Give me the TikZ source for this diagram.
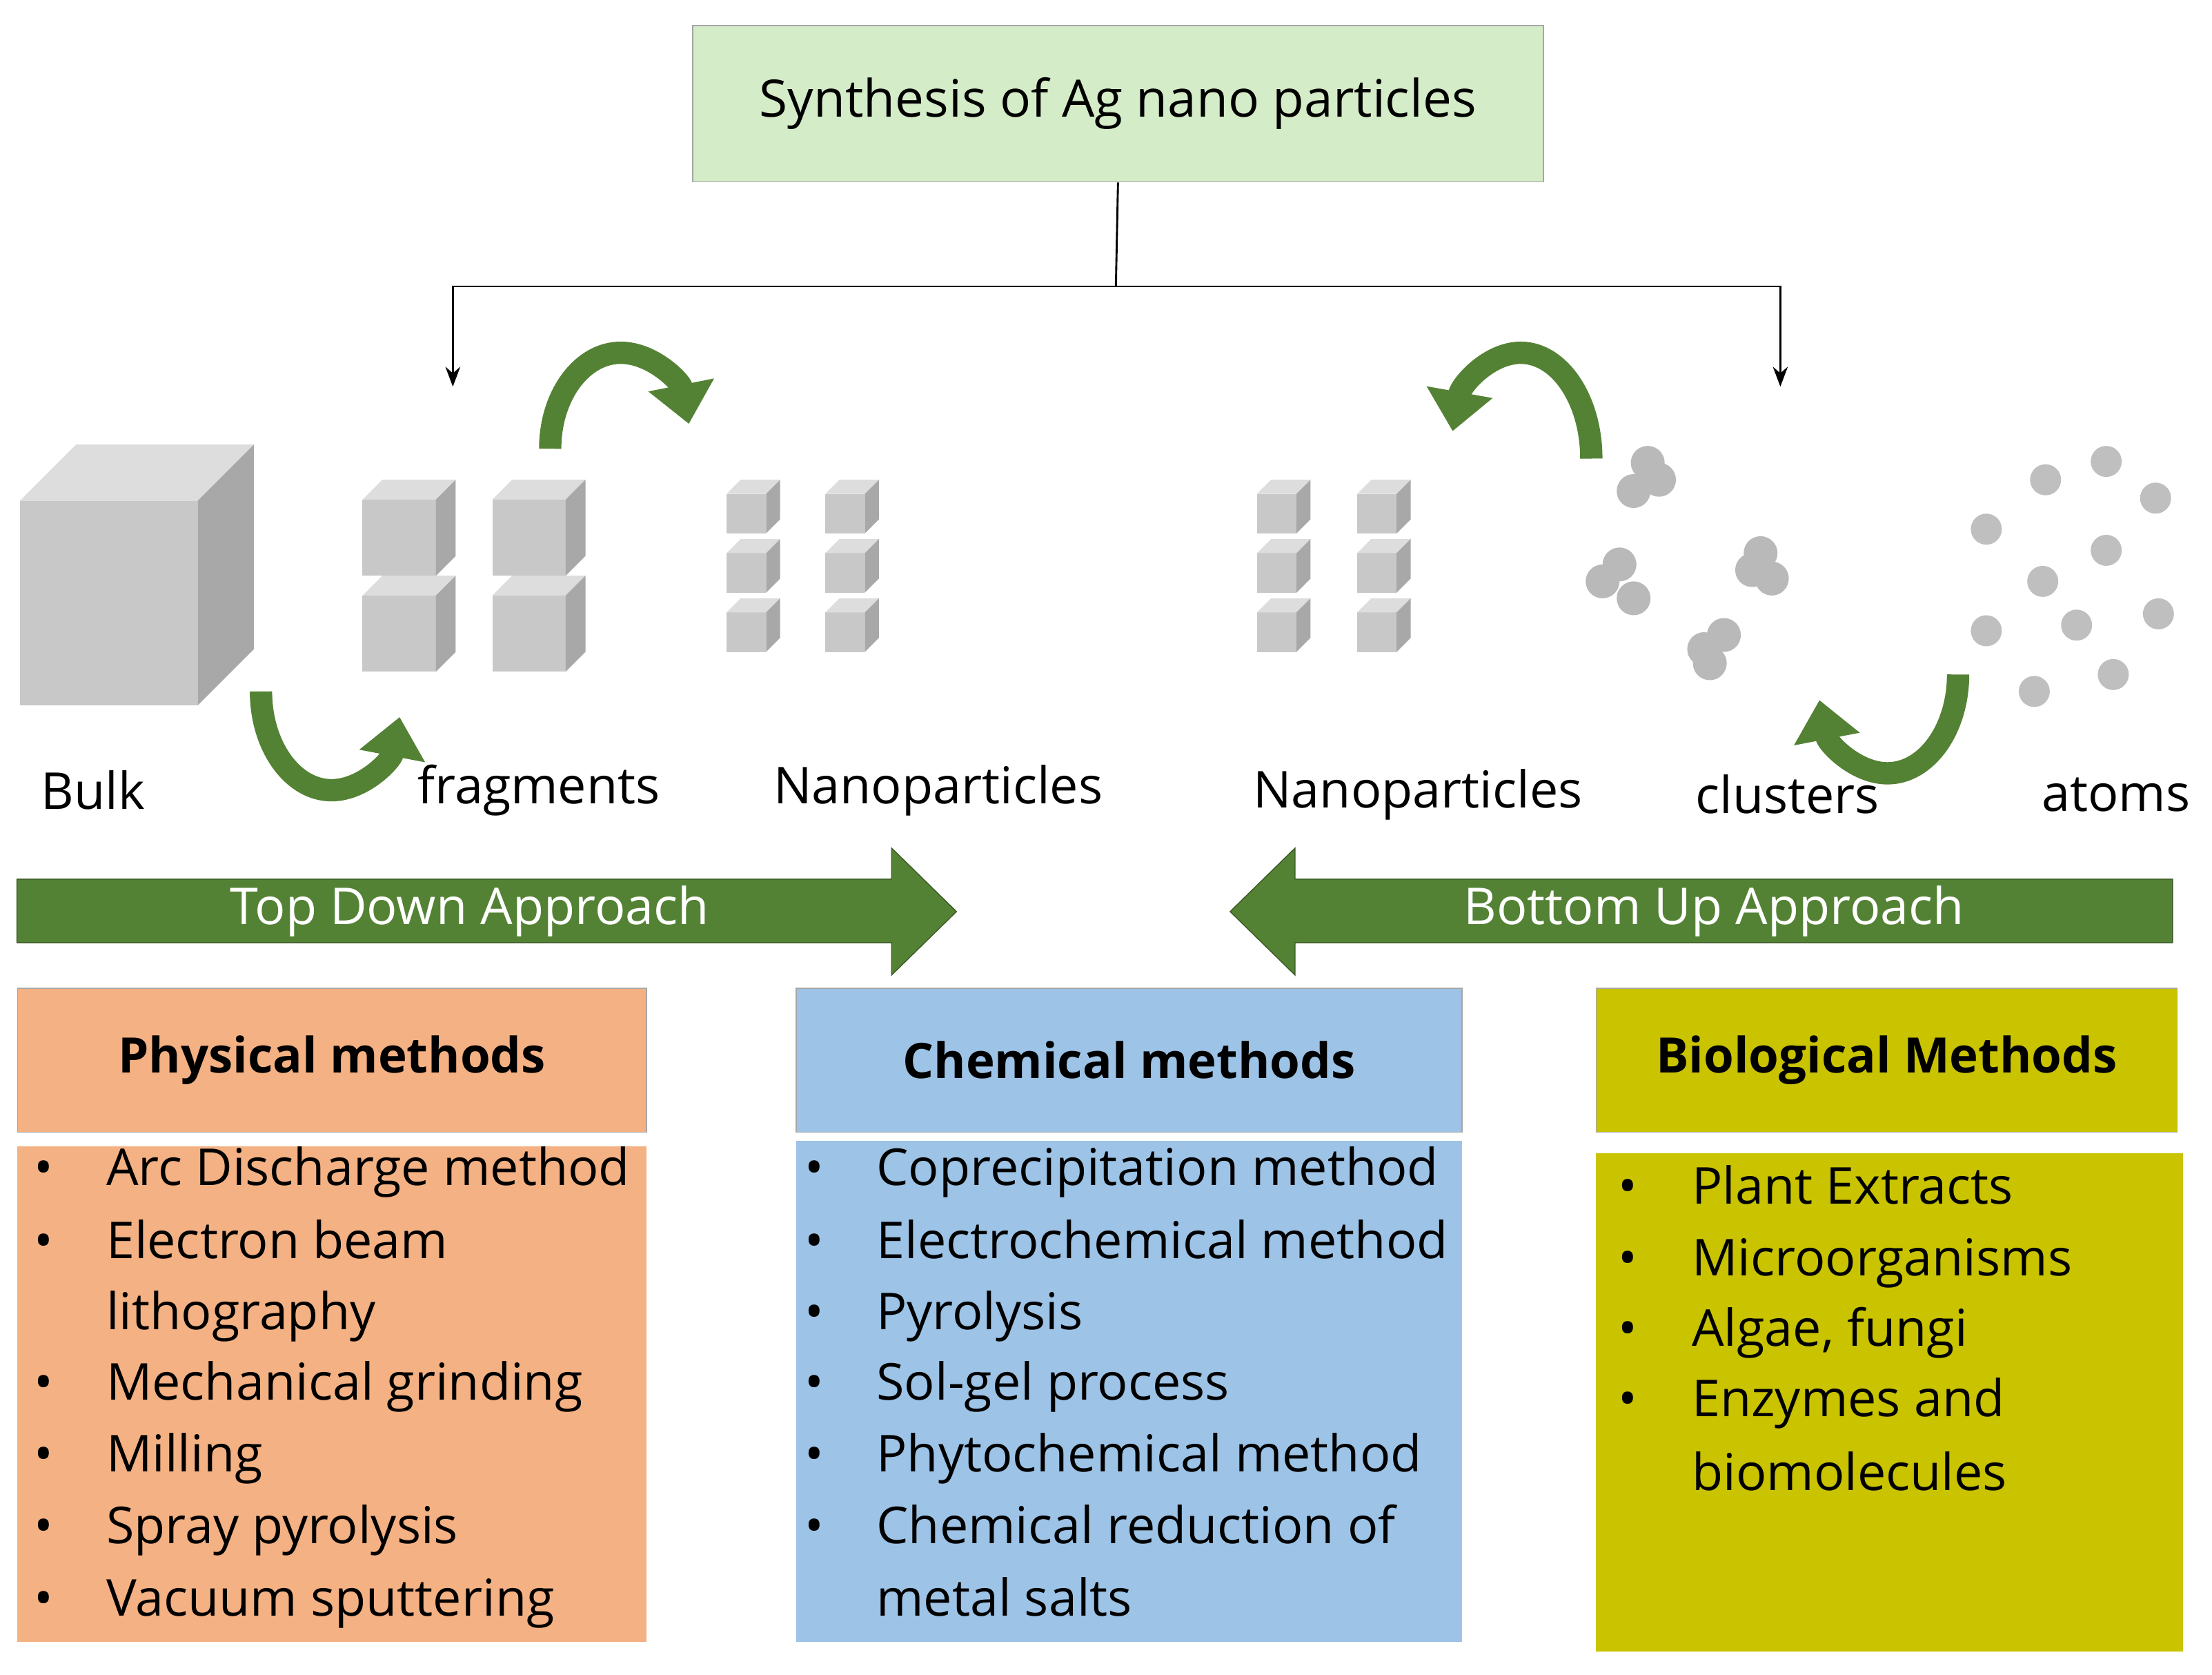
\documentclass[tikz,border=0pt]{standalone}
\usepackage{fontspec}
\setmainfont{Open Sans}
\usetikzlibrary{arrows.meta}
\definecolor{titlegreen}{HTML}{D5ECC8}
\definecolor{arrowgreen}{HTML}{548235}
\definecolor{physcol}{HTML}{F4B183}
\definecolor{chemcol}{HTML}{9DC3E6}
\definecolor{biocol}{HTML}{C9C300}
\definecolor{cubefront}{HTML}{C8C8C8}
\definecolor{cubetop}{HTML}{DDDDDD}
\definecolor{cubeside}{HTML}{A8A8A8}
\tikzset{
  header/.style = {rectangle, draw=gray!70, text centered, font=\fontsize{19.7}{23}\selectfont\bfseries, anchor=north west},
  listbox/.style = {rectangle, draw=none, anchor=north west},
  item/.style = {anchor=base west, inner sep=0pt, font=\fontsize{20.5}{24}\selectfont},
  lbl/.style = {font=\fontsize{20.5}{24}\selectfont},
  tree/.style = {draw, thick, -{Stealth[length=8pt]}},
  turn/.style = {draw=arrowgreen, line width=9pt, -{Triangle[width=26pt,length=16pt]}},
  bigarrow/.style = {fill=arrowgreen, draw=arrowgreen!70!black}
}
% cube: x, y (front top-left), width, height, depth
\newcommand\cube[5]{%
  \fill[cubefront] (#1,#2) rectangle ++(#3,#4);
  \fill[cubetop] (#1,#2) -- ++(#5,-#5) -- ++(#3,0) -- ++(-#5,#5) -- cycle;
  \fill[cubeside] (#1+#3,#2) -- ++(#5,-#5) -- ++(0,#4) -- ++(-#5,#5) -- cycle;
}
\begin{document}
\begin{tikzpicture}[x=0.2mm,y=-0.2mm]
    \useasboundingbox (0,0) rectangle (1568,1187);
    % title and tree
    \node [rectangle, draw=gray!70, fill=titlegreen, minimum width=120.6mm, minimum height=22.2mm, font=\fontsize{20.8}{24}\selectfont] (title) at (792.5,73.5) {Synthesis of Ag nano particles};
    \coordinate (split) at (791,203);
    \coordinate (tl) at (321,274);
    \coordinate (tr) at (1262,274);
    \draw [thick] (title.south) -- (split);
    \path [tree] (split) -| (tl);
    \path [tree] (split) -| (tr);
    % cubes
    \cube{14}{355}{126}{145}{40}
    \foreach \x in {257,349} \foreach \y in {354,422} {\cube{\x}{\y}{52}{54}{14}}
    \foreach \x in {515,585,891,962} \foreach \y in {350,392,434} {\cube{\x}{\y}{28}{28}{10}}
    % clusters and atoms
    \foreach \p in {(1158,348),(1176,340),(1168,328),(1136,412),(1148,400),(1158,424),(1248,392),(1256,410),(1242,404),(1208,460),(1222,450),(1212,470)}
        \fill[gray!55] \p circle (12);
    \foreach \p in {(1450,340),(1493,327),(1528,353),(1408,375),(1493,390),(1448,412),(1408,447),(1472,443),(1530,435),(1442,490),(1498,478)}
        \fill[gray!50] \p circle (11);
    % turning arrows
    \draw [turn] (390,318) arc (180:345:50 and 68);
    \draw [turn] (185,490) arc (180:15:50 and 70);
    \draw [turn] (1128,325) arc (0:-165:50 and 75);
    \draw [turn] (1388,478) arc (0:165:50 and 70);
    % labels
    \node [lbl] (bulk) at (66,560) {Bulk};
    \node [lbl] (frag) at (382,560) {fragments};
    \node [lbl] (nanol) at (665,560) {Nanoparticles};
    \node [lbl] (nanor) at (1005,563) {Nanoparticles};
    \node [lbl] (clus) at (1267,563) {clusters};
    \node [lbl] (atoms) at (1500,563) {atoms};
    % approach arrows
    \filldraw [bigarrow] (12,623) -- (632,623) -- (632,601) -- (678,646) -- (632,691) -- (632,668) -- (12,668) -- cycle;
    \filldraw [bigarrow] (1540,623) -- (918,623) -- (918,601) -- (872,646) -- (918,691) -- (918,668) -- (1540,668) -- cycle;
    \node [lbl, text=white] (topdown) at (333,646) {Top Down Approach};
    \node [lbl, text=white] (bottomup) at (1215,646) {Bottom Up Approach};
    % method boxes
    \node [header, fill=physcol, minimum width=89.2mm, minimum height=20.4mm] (phys) at (12,700) {Physical methods};
    \node [listbox, fill=physcol, minimum width=89.2mm, minimum height=70.2mm] (physlist) at (12,812) {};
    \node [header, fill=chemcol, minimum width=94.4mm, minimum height=20.4mm] (chem) at (564,700) {Chemical methods};
    \node [listbox, fill=chemcol, minimum width=94.4mm, minimum height=71mm] (chemlist) at (564,808) {};
    \node [header, fill=biocol, minimum width=82.4mm, minimum height=20.4mm] (bio) at (1131,700) {Biological Methods};
    \node [listbox, fill=biocol, minimum width=83.2mm, minimum height=70.6mm] (biolist) at (1131,817) {};
    % lists
    \foreach \y/\t/\b in {840/Arc Discharge method/1, 892/Electron beam/1, 942/lithography/0, 992/Mechanical grinding/1, 1043/Milling/1, 1094/Spray pyrolysis/1, 1145/Vacuum sputtering/1} {
        \ifnum\b=1 \node [item] at (24,\y) {•}; \fi
        \node [item] at (75,\y) {\t};
    }
    \foreach \y/\t/\b in {840/Coprecipitation method/1, 892/Electrochemical method/1, 942/Pyrolysis/1, 992/Sol-gel process/1, 1043/Phytochemical method/1, 1094/Chemical reduction of/1, 1145/metal salts/0} {
        \ifnum\b=1 \node [item] at (570,\y) {•}; \fi
        \node [item] at (621,\y) {\t};
    }
    \foreach \y/\t/\b in {853/Plant Extracts/1, 904/Microorganisms/1, 954/{Algae, fungi}/1, 1004/Enzymes and/1, 1056/biomolecules/0} {
        \ifnum\b=1 \node [item] at (1147,\y) {•}; \fi
        \node [item] at (1199,\y) {\t};
    }
\end{tikzpicture}
\end{document}
